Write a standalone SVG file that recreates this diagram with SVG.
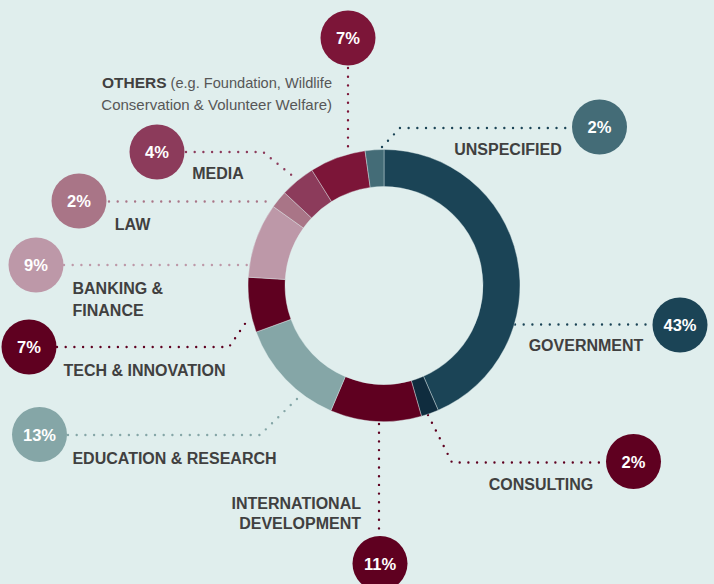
<svg xmlns="http://www.w3.org/2000/svg" width="714" height="584" viewBox="0 0 714 584">
<style>
.lbl{font-family:"Liberation Sans",Arial,sans-serif;font-weight:bold;font-size:16px;fill:#404040}
.sub{font-family:"Liberation Sans",Arial,sans-serif;font-weight:normal;font-size:15px;fill:#575757}
.pct{font-family:"Liberation Sans",Arial,sans-serif;font-weight:bold;font-size:16.5px;fill:#ffffff;text-anchor:middle}
.seg{stroke:#e0eeed;stroke-width:0.4}
.dot{fill:none;stroke-width:2.4;stroke-linecap:round;stroke-dasharray:0 8.7}
</style>
<rect width="714" height="584" fill="#e0eeed"/>
<g id="connectors">
<path class="dot" stroke="#1b4456" d="M382,147 L400,128 H567"/>
<path class="dot" stroke="#1b4456" d="M515,324.5 H651"/>
<path class="dot" stroke="#5f0020" d="M428,415 L452,462.5 H604"/>
<path class="dot" stroke="#5f0020" d="M379,424 V534"/>
<path class="dot" stroke="#85a6a7" d="M68,435 H260 L300,396"/>
<path class="dot" stroke="#5f0020" d="M57,347 H229 L249,318"/>
<path class="dot" stroke="#bd98a8" d="M64,265 H250"/>
<path class="dot" stroke="#a97587" d="M109,201.5 H274"/>
<path class="dot" stroke="#8c3b5b" d="M186,152 H263 L294,177"/>
<path class="dot" stroke="#7c1538" d="M348,68 V152"/>
</g>
<g id="government">
<path class="seg" fill="#1b4456" d="M384,149.5 A136,136 0 0 1 438.22,410.23 L423.47,376.29 A99,99 0 0 0 384,186.5 Z"/>
<circle cx="680" cy="325" r="27.5" fill="#1b4456"/>
<text class="pct" x="680" y="331">43%</text>
<text class="lbl" x="586" y="351" text-anchor="middle">GOVERNMENT</text>
</g>
<g id="consulting">
<path class="seg" fill="#0f2c3e" d="M438.22,410.23 A136,136 0 0 1 421.49,416.23 L411.29,380.67 A99,99 0 0 0 423.47,376.29 Z"/>
<circle cx="633.5" cy="461.5" r="27.5" fill="#5f0020"/>
<text class="pct" x="633.5" y="467.5">2%</text>
<text class="lbl" x="541" y="489.5" text-anchor="middle">CONSULTING</text>
</g>
<g id="international-development">
<path class="seg" fill="#5f0020" d="M421.49,416.23 A136,136 0 0 1 330.86,410.69 L345.32,376.63 A99,99 0 0 0 411.29,380.67 Z"/>
<circle cx="380" cy="563.5" r="27.5" fill="#5f0020"/>
<text class="pct" x="380" y="569.5">11%</text>
<text class="lbl" x="361" y="508.5" text-anchor="end">INTERNATIONAL</text>
<text class="lbl" x="361" y="528.5" text-anchor="end">DEVELOPMENT</text>
</g>
<g id="education-research">
<path class="seg" fill="#85a6a7" d="M330.86,410.69 A136,136 0 0 1 256.2,332.01 L290.97,319.36 A99,99 0 0 0 345.32,376.63 Z"/>
<circle cx="39.5" cy="434.5" r="27.5" fill="#85a6a7"/>
<text class="pct" x="39.5" y="440.5">13%</text>
<text class="lbl" x="174.5" y="463.5" text-anchor="middle">EDUCATION &amp; RESEARCH</text>
</g>
<g id="tech-innovation">
<path class="seg" fill="#5f0020" d="M256.2,332.01 A136,136 0 0 1 248.26,277.2 L285.19,279.46 A99,99 0 0 0 290.97,319.36 Z"/>
<circle cx="29" cy="347" r="27.5" fill="#5f0020"/>
<text class="pct" x="29" y="353">7%</text>
<text class="lbl" x="144.5" y="376" text-anchor="middle">TECH &amp; INNOVATION</text>
</g>
<g id="banking-finance">
<path class="seg" fill="#bd98a8" d="M248.26,277.2 A136,136 0 0 1 273.28,206.53 L303.4,228.01 A99,99 0 0 0 285.19,279.46 Z"/>
<circle cx="36" cy="265" r="27.5" fill="#bd98a8"/>
<text class="pct" x="36" y="271">9%</text>
<text class="lbl" x="72.5" y="293.5">BANKING &amp;</text>
<text class="lbl" x="72.5" y="315.5">FINANCE</text>
</g>
<g id="law">
<path class="seg" fill="#a97587" d="M273.28,206.53 A136,136 0 0 1 284.53,192.75 L311.59,218 A99,99 0 0 0 303.4,228.01 Z"/>
<circle cx="79" cy="201" r="27.5" fill="#a97587"/>
<text class="pct" x="79" y="207">2%</text>
<text class="lbl" x="132.5" y="230" text-anchor="middle">LAW</text>
</g>
<g id="media">
<path class="seg" fill="#8c3b5b" d="M284.53,192.75 A136,136 0 0 1 311.93,170.17 L331.54,201.55 A99,99 0 0 0 311.59,218 Z"/>
<circle cx="157" cy="152" r="27.5" fill="#8c3b5b"/>
<text class="pct" x="157" y="158">4%</text>
<text class="lbl" x="218" y="179" text-anchor="middle">MEDIA</text>
</g>
<g id="others">
<path class="seg" fill="#7c1538" d="M311.93,170.17 A136,136 0 0 1 365.07,150.82 L370.22,187.46 A99,99 0 0 0 331.54,201.55 Z"/>
<circle cx="348" cy="38" r="27.5" fill="#7c1538"/>
<text class="pct" x="348" y="44">7%</text>
<text x="332" y="87.5" text-anchor="end"><tspan class="lbl" style="font-size:15.5px">OTHERS</tspan><tspan class="sub" style="font-size:14.6px"> (e.g. Foundation, Wildlife</tspan></text>
<text class="sub" x="332" y="109.5" text-anchor="end">Conservation &amp; Volunteer Welfare)</text>
</g>
<g id="unspecified">
<path class="seg" fill="#446c77" d="M365.07,150.82 A136,136 0 0 1 384,149.5 L384,186.5 A99,99 0 0 0 370.22,187.46 Z"/>
<circle cx="599.5" cy="127" r="27.5" fill="#446c77"/>
<text class="pct" x="599.5" y="133">2%</text>
<text class="lbl" x="508" y="155" text-anchor="middle">UNSPECIFIED</text>
</g>
</svg>
